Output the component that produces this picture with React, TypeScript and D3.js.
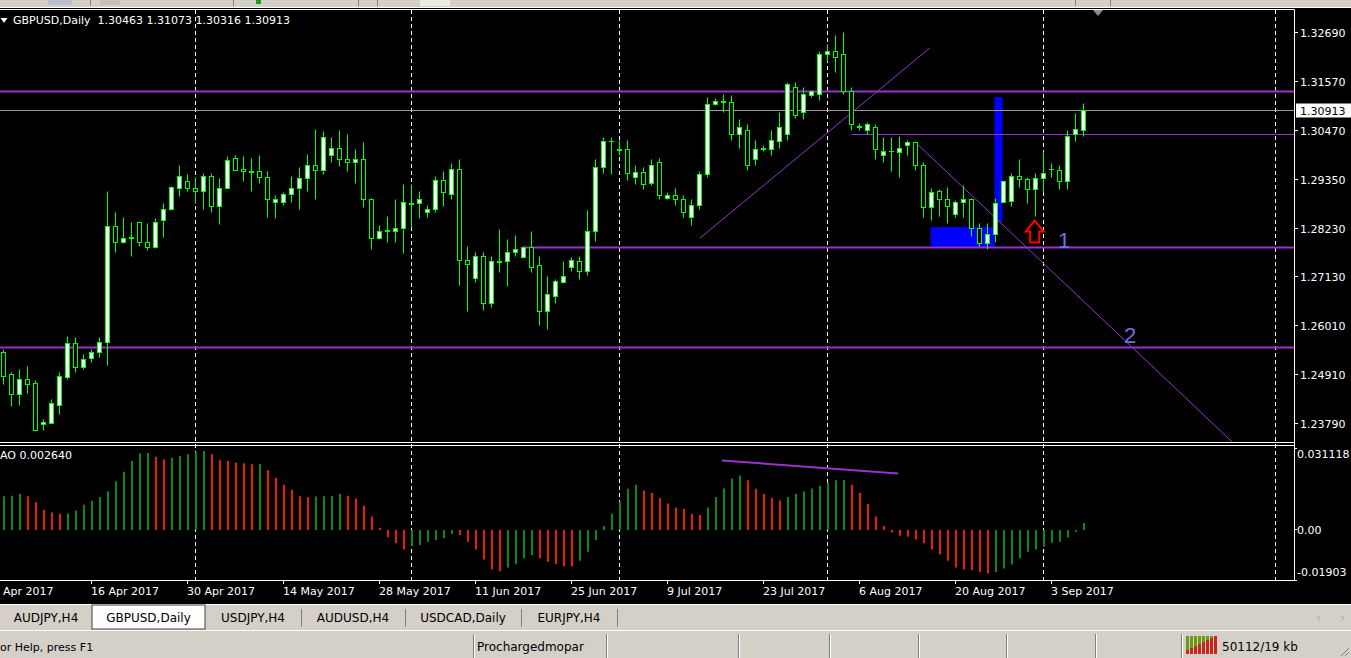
import React from 'react';
import * as d3 from 'd3';

// GBPUSD daily bars, 3 Apr 2017 .. 7 Sep 2017 (Sunday bars included)
const opens = [
  1.2541, 1.2490, 1.2446, 1.2480, 1.2469, 1.2376, 1.2380, 1.2421, 1.2483, 1.2562,
  1.2506, 1.2526, 1.2541, 1.2564, 1.2828, 1.2790, 1.2801, 1.2837, 1.2792, 1.2779,
  1.2840, 1.2867, 1.2915, 1.2929, 1.2915, 1.2906, 1.2942, 1.2874, 1.2915, 1.2983,
  1.2958, 1.2952, 1.2952, 1.2940, 1.2881, 1.2881, 1.2901, 1.2913, 1.2936, 1.2967,
  1.2956, 1.2988, 1.3004, 1.2981, 1.2972, 1.2981, 1.2890, 1.2801, 1.2817, 1.2817,
  1.2822, 1.2879, 1.2879, 1.2860, 1.2867, 1.2931, 1.2901, 1.2958, 1.2749, 1.2708,
  1.2758, 1.2653, 1.2747, 1.2747, 1.2769, 1.2756, 1.2779, 1.2738, 1.2633, 1.2669,
  1.2701, 1.2733, 1.2747, 1.2726, 1.2815, 1.2961, 1.3020, 1.3002, 1.3002, 1.2938,
  1.2951, 1.2926, 1.2974, 1.2892, 1.2899, 1.2888, 1.2847, 1.2876, 1.2945, 1.3106,
  1.3111, 1.3109, 1.3036, 1.3047, 1.2979, 1.3002, 1.3002, 1.3020, 1.3036, 1.3143,
  1.3088, 1.3125, 1.3127, 1.3218, 1.3225, 1.3218, 1.3134, 1.3056, 1.3047, 1.3052,
  1.2988, 1.2997, 1.2995, 1.3011, 1.3018, 1.2967, 1.2870, 1.2906, 1.2888, 1.2854,
  1.2881, 1.2888, 1.2824, 1.2788, 1.2810, 1.2883, 1.2884, 1.2941, 1.2935, 1.2912,
  1.2937, 1.2958, 1.2956, 1.2929, 1.3036, 1.30463,
];
const highs = [
  1.2548, 1.2496, 1.2501, 1.2508, 1.2478, 1.2387, 1.2433, 1.2496, 1.2576, 1.2574,
  1.2535, 1.2548, 1.2574, 1.2906, 1.2860, 1.2849, 1.2837, 1.2838, 1.2835, 1.2846,
  1.2879, 1.2918, 1.2967, 1.2945, 1.2938, 1.2949, 1.2947, 1.2936, 1.2986, 1.2990,
  1.2986, 1.2983, 1.2990, 1.2952, 1.2897, 1.2904, 1.2942, 1.2961, 1.2992, 1.3049,
  1.3043, 1.3029, 1.3045, 1.3036, 1.3002, 1.3018, 1.2892, 1.2829, 1.2851, 1.2890,
  1.2922, 1.2924, 1.2906, 1.2876, 1.2942, 1.2952, 1.2970, 1.2981, 1.2783, 1.2769,
  1.2769, 1.2758, 1.2820, 1.2797, 1.2806, 1.2783, 1.2817, 1.2760, 1.2713, 1.2706,
  1.2747, 1.2756, 1.2760, 1.2863, 1.2979, 1.3031, 1.3031, 1.3024, 1.3024, 1.2967,
  1.2961, 1.2979, 1.2983, 1.2904, 1.2915, 1.2899, 1.2888, 1.2952, 1.3120, 1.3118,
  1.3129, 1.3125, 1.3070, 1.3059, 1.3024, 1.3011, 1.3047, 1.3088, 1.3156, 1.3156,
  1.3143, 1.3138, 1.3225, 1.3241, 1.3263, 1.3268, 1.3143, 1.3061, 1.3065, 1.3059,
  1.3031, 1.3031, 1.3033, 1.3024, 1.3020, 1.2972, 1.2913, 1.2911, 1.2917, 1.2886,
  1.2920, 1.2892, 1.2835, 1.2835, 1.2892, 1.2931, 1.2947, 1.2981, 1.2939, 1.2949,
  1.2998, 1.2971, 1.2967, 1.3047, 1.3085, 1.31073,
];
const lows = [
  1.2467, 1.2417, 1.2421, 1.2448, 1.2360, 1.2364, 1.2378, 1.2399, 1.2480, 1.2494,
  1.2503, 1.2517, 1.2530, 1.2512, 1.2769, 1.2788, 1.2758, 1.2781, 1.2772, 1.2777,
  1.2803, 1.2863, 1.2895, 1.2906, 1.2879, 1.2865, 1.2860, 1.2831, 1.2913, 1.2952,
  1.2929, 1.2906, 1.2926, 1.2849, 1.2845, 1.2876, 1.2881, 1.2867, 1.2906, 1.2890,
  1.2945, 1.2974, 1.2965, 1.2952, 1.2926, 1.2870, 1.2776, 1.2797, 1.2792, 1.2790,
  1.2767, 1.2826, 1.2845, 1.2849, 1.2860, 1.2872, 1.2890, 1.2692, 1.2633, 1.2701,
  1.2637, 1.2642, 1.2722, 1.2690, 1.2758, 1.2754, 1.2722, 1.2603, 1.2592, 1.2653,
  1.2697, 1.2724, 1.2706, 1.2717, 1.2794, 1.2949, 1.2945, 1.2990, 1.2931, 1.2922,
  1.2911, 1.2920, 1.2888, 1.2888, 1.2876, 1.2847, 1.2829, 1.2865, 1.2938, 1.3102,
  1.3088, 1.3024, 1.3006, 1.2956, 1.2967, 1.2997, 1.2990, 1.3006, 1.3024, 1.3074,
  1.3070, 1.3120, 1.3115, 1.3202, 1.3179, 1.3127, 1.3047, 1.3047, 1.3036, 1.2979,
  1.2972, 1.2952, 1.2940, 1.2990, 1.2954, 1.2849, 1.2842, 1.2851, 1.2835, 1.2849,
  1.2849, 1.2804, 1.2781, 1.2776, 1.2790, 1.2881, 1.2873, 1.2917, 1.2879, 1.2851,
  1.2904, 1.2939, 1.2912, 1.2911, 1.3020, 1.30316,
];
const closes = [
  1.2487, 1.2444, 1.2480, 1.2467, 1.2362, 1.2382, 1.2424, 1.2485, 1.2562, 1.2506,
  1.2524, 1.2541, 1.2564, 1.2828, 1.2792, 1.2799, 1.2802, 1.2790, 1.2779, 1.2837,
  1.2867, 1.2917, 1.2942, 1.2913, 1.2906, 1.2942, 1.2874, 1.2915, 1.2977, 1.2956,
  1.2952, 1.2951, 1.2940, 1.2890, 1.2890, 1.2901, 1.2913, 1.2936, 1.2967, 1.2956,
  1.3029, 1.3006, 1.2979, 1.2972, 1.2981, 1.2890, 1.2799, 1.2817, 1.2818, 1.2822,
  1.2881, 1.2878, 1.2888, 1.2867, 1.2931, 1.2904, 1.2958, 1.2749, 1.2740, 1.2758,
  1.2653, 1.2747, 1.2746, 1.2769, 1.2776, 1.2779, 1.2735, 1.2633, 1.2672, 1.2703,
  1.2713, 1.2751, 1.2726, 1.2815, 1.2961, 1.3020, 1.3021, 1.3001, 1.2949, 1.2951,
  1.2922, 1.2967, 1.2899, 1.2897, 1.2888, 1.2860, 1.2876, 1.2945, 1.3104, 1.3113,
  1.3110, 1.3036, 1.3052, 1.2967, 1.3002, 1.3006, 1.3024, 1.3052, 1.3150, 1.3081,
  1.3127, 1.3134, 1.3218, 1.3225, 1.3211, 1.3134, 1.3059, 1.3052, 1.3059, 1.3002,
  1.2999, 1.2998, 1.3006, 1.3018, 1.2967, 1.2870, 1.2904, 1.2890, 1.2872, 1.2881,
  1.2888, 1.2824, 1.2788, 1.2810, 1.2879, 1.2929, 1.2941, 1.2935, 1.2912, 1.2937,
  1.2949, 1.2957, 1.2929, 1.3033, 1.3049, 1.30913,
];
// Awesome Oscillator values per bar
const aoValues = [
  0.0128, 0.0130, 0.0137, 0.0128, 0.0105, 0.0077, 0.0066, 0.0061, 0.0062, 0.0074,
  0.0096, 0.0111, 0.0125, 0.0147, 0.0185, 0.0221, 0.0262, 0.0291, 0.0292, 0.0278,
  0.0268, 0.0274, 0.0281, 0.0287, 0.0296, 0.0300, 0.0287, 0.0265, 0.0262, 0.0255,
  0.0253, 0.0249, 0.0250, 0.0227, 0.0198, 0.0172, 0.0153, 0.0128, 0.0124, 0.0127,
  0.0128, 0.0129, 0.0137, 0.0130, 0.0118, 0.0093, 0.0051, 0.0007, -0.0028, -0.0051,
  -0.0074, -0.0061, -0.0057, -0.0045, -0.0038, -0.0032, -0.0015, -0.0019, -0.0045, -0.0074,
  -0.0112, -0.0150, -0.0157, -0.0143, -0.0130, -0.0108, -0.0096, -0.0108, -0.0121, -0.0130,
  -0.0138, -0.0139, -0.0117, -0.0083, -0.0038, 0.0015, 0.0061, 0.0108, 0.0156, 0.0172,
  0.0150, 0.0140, 0.0121, 0.0100, 0.0085, 0.0079, 0.0060, 0.0057, 0.0085, 0.0125,
  0.0157, 0.0195, 0.0207, 0.0189, 0.0156, 0.0137, 0.0121, 0.0112, 0.0125, 0.0137,
  0.0147, 0.0157, 0.0168, 0.0179, 0.0189, 0.0190, 0.0172, 0.0140, 0.0098, 0.0051,
  0.0015, -0.0010, -0.0022, -0.0026, -0.0036, -0.0051, -0.0074, -0.0093, -0.0117, -0.0143,
  -0.0150, -0.0153, -0.0160, -0.0166, -0.0160, -0.0147, -0.0131, -0.0108, -0.0083, -0.0074,
  -0.0064, -0.0049, -0.0045, -0.0029, -0.0007, 0.00264,
];

const priceTicks = ['1.32690', '1.31570', '1.30470', '1.29350', '1.28230', '1.27130', '1.26010', '1.24910', '1.23790'];
const aoTicks = [0.031118, 0.0, -0.01903];
const aoTickLabels = ['0.031118', '0.00', '-0.01903'];
// first label is cut by the window edge, only its tail shows
const dateTickIdx = [-1, 11, 23, 35, 47, 59, 71, 83, 95, 107, 119, 131];
const dateTickLabels = ['Apr 2017', '16 Apr 2017', '30 Apr 2017', '14 May 2017', '28 May 2017', '11 Jun 2017',
  '25 Jun 2017', '9 Jul 2017', '23 Jul 2017', '6 Aug 2017', '20 Aug 2017', '3 Sep 2017'];
const monthGridIdx = [24, 51, 77, 103, 130, 159];

// drawn objects (bar index, price)
const hLines = [
  { price: 1.3134, from: -1, w: 2 },
  { price: 1.3036, from: 106, w: 1 },
  { price: 1.2780, from: 65, w: 2 },
  { price: 1.2551, from: -1, w: 2 },
];
const trendUp = [{ i: 87.06, p: 1.2801 }, { i: 115.8, p: 1.3234 }];
const trendDown = [{ i: 114.06, p: 1.3018 }, { i: 129.56, p: 1.2751 }];
const aoTrend = [{ i: 89.8, v: 0.0264 }, { i: 111.8, v: 0.0214 }];
const blueBoxes = [
  { i1: 123.94, i2: 124.94, p1: 1.3122, p2: 1.2838 },
  { i1: 115.94, i2: 123.94, p1: 1.2826, p2: 1.2780 },
];
const arrowUp = { i: 128.9, p: 1.2841 };
const textMarks = [
  { label: '1', i: 131.8, p: 1.2779 },
  { label: '2', i: 140.06, p: 1.2562 },
];
const tabs = ['AUDJPY,H4', 'GBPUSD,Daily', 'USDJPY,H4', 'AUDUSD,H4', 'USDCAD,Daily', 'EURJPY,H4'];
const tabEdges = [0, 92, 205, 301, 405, 521, 617];
const statusSeps = [473, 606, 738, 829, 918, 1006, 1095, 1181];

const W = 1351;
const H = 658;
const RIGHT = 1294.5;
const GREEN = '#00ff00';
const PURPLE = '#9932cc';
const FONT = 'DejaVu Sans, Verdana, sans-serif';
const GRAY = '#d4d0c8';

const App = () => {
  const n = closes.length;
  const x = d3.scaleLinear().domain([0, n - 1]).range([3.5, 3.5 + 8 * (n - 1)]);
  const y = d3.scaleLinear().domain([1.2379, 1.3269]).range([423.5, 32.5]);
  const yAo = d3.scaleLinear().domain([-0.01903, 0.031118]).range([580, 448]);
  const snap = (v: number) => Math.round(v - 0.5) + 0.5;

  const lastPrice = closes[n - 1];

  // extend descending trendline to bottom of price window
  const slope = (y(trendDown[1].p) - y(trendDown[0].p)) / (x(trendDown[1].i) - x(trendDown[0].i));
  const tdX2 = x(trendDown[0].i) + (442 - y(trendDown[0].p)) / slope;

  const ax = x(arrowUp.i);
  const ay = y(arrowUp.p);

  return (
    <svg width={W} height={H} style={{ position: 'fixed', left: 0, top: 0, background: '#000' }}
      fontFamily={FONT}>
      <defs>
        <clipPath id="mainClip"><rect x={0} y={10} width={RIGHT} height={432} /></clipPath>
        <clipPath id="aoClip"><rect x={0} y={446} width={RIGHT} height={134} /></clipPath>
      </defs>
      <rect x={0} y={0} width={W} height={H} fill="#000" />

      {/* toolbar remnant */}
      <rect x={0} y={0} width={W} height={8} fill={GRAY} />
      <rect x={48} y={0} width={24} height={5} fill="#b9bfcc" />
      <rect x={100} y={0} width={20} height={5} fill="#c4c0b8" />
      <rect x={256} y={0} width={5} height={4} fill="#1ca01c" />
      <rect x={420} y={0} width={30} height={6} fill="#ecebe6" />
      {[90, 233, 358, 377, 1075, 1110].map(s => (
        <line key={s} x1={s + 0.5} x2={s + 0.5} y1={0} y2={6} stroke="#808080" />
      ))}
      <line x1={0} x2={W} y1={7.5} y2={7.5} stroke="#ffffff" />

      {/* window frames */}
      <line x1={0} x2={RIGHT} y1={9.5} y2={9.5} stroke="#fff" />
      <line x1={RIGHT} x2={RIGHT} y1={9.5} y2={580.5} stroke="#fff" />
      <line x1={0} x2={RIGHT} y1={442.5} y2={442.5} stroke="#fff" />
      <line x1={0} x2={RIGHT} y1={445.5} y2={445.5} stroke="#fff" />
      <line x1={0} x2={RIGHT} y1={580.5} y2={580.5} stroke="#fff" />

      {/* month grid */}
      {monthGridIdx.map(g => (
        <line key={g} x1={x(g)} x2={x(g)} y1={10} y2={580} stroke="#fff" strokeDasharray="4,3" />
      ))}

      {/* objects behind bars */}
      <g clipPath="url(#mainClip)">
        {blueBoxes.map((b, k) => (
          <rect key={k} x={x(b.i1) - 0.5} y={y(b.p1)} width={x(b.i2) - x(b.i1)} height={y(b.p2) - y(b.p1)} fill="#0000ff" />
        ))}
        {hLines.map((l, k) => (
          <line key={k} x1={l.from < 0 ? 0 : x(l.from)} x2={RIGHT} y1={snap(y(l.price))} y2={snap(y(l.price))}
            stroke={PURPLE} strokeWidth={l.w} />
        ))}
        <line x1={0} x2={RIGHT} y1={snap(y(lastPrice))} y2={snap(y(lastPrice))} stroke="#9a9a9a" />
        <line x1={x(trendUp[0].i)} y1={y(trendUp[0].p)} x2={x(trendUp[1].i)} y2={y(trendUp[1].p)}
          stroke={PURPLE} strokeWidth={1} />
        <line x1={x(trendDown[0].i)} y1={y(trendDown[0].p)} x2={tdX2} y2={442}
          stroke={PURPLE} strokeWidth={1} />

        {/* candles */}
        {closes.map((c, i) => {
          const o = opens[i];
          const cx = x(i);
          const top = snap(y(Math.max(o, c)));
          const bot = snap(y(Math.min(o, c)));
          const bull = c >= o;
          return (
            <g key={i}>
              <line x1={cx} x2={cx} y1={snap(y(highs[i]))} y2={snap(y(lows[i]))} stroke={GREEN} />
              {bot - top < 1 ? (
                <line x1={cx - 2.5} x2={cx + 2.5} y1={top} y2={top} stroke={GREEN} />
              ) : (
                <rect x={cx - 2} y={top} width={4} height={bot - top} fill={bull ? '#ffffff' : '#000000'} stroke={GREEN} />
              )}
            </g>
          );
        })}

        {/* arrow */}
        <path d={`M${ax},${ay} L${ax + 9},${ay + 11} L${ax + 4.5},${ay + 11} L${ax + 4.5},${ay + 22} L${ax - 4.5},${ay + 22} L${ax - 4.5},${ay + 11} L${ax - 9},${ay + 11} Z`}
          fill="none" stroke="#ff0000" strokeWidth={2} />
        {textMarks.map(t => (
          <text key={t.label} x={x(t.i)} y={y(t.p)} fill="#6f6fe6" fontFamily="Liberation Sans, Arial, sans-serif" fontSize={22}>{t.label}</text>
        ))}
      </g>

      {/* chart shift marker */}
      <path d="M1093,10 L1103,10 L1098,16 Z" fill="#8c8c9c" />

      {/* header */}
      <path d="M0.5,18 L7.5,18 L4,23 Z" fill="#fff" />
      <text x={13} y={24} fill="#fff" fontSize={11} style={{ whiteSpace: 'pre' }}>
        {`GBPUSD,Daily  ${opens[n - 1].toFixed(5)} ${highs[n - 1].toFixed(5)} ${lows[n - 1].toFixed(5)} ${closes[n - 1].toFixed(5)}`}
      </text>

      {/* price axis */}
      {priceTicks.map(t => {
        const ty = snap(y(parseFloat(t)));
        return (
          <g key={t}>
            <line x1={RIGHT} x2={1298} y1={ty} y2={ty} stroke="#fff" />
            <text x={1300} y={ty + 4} fill="#fff" fontSize={11}>{t}</text>
          </g>
        );
      })}
      <rect x={1296} y={snap(y(lastPrice)) - 7} width={55} height={14} fill="#fff" />
      <text x={1300} y={snap(y(lastPrice)) + 4} fill="#000" fontSize={11}>{lastPrice.toFixed(5)}</text>

      {/* AO window */}
      <g clipPath="url(#aoClip)">
        {aoValues.map((v, i) => {
          const up = i === 0 || v > aoValues[i - 1];
          return (
            <line key={i} x1={x(i) + 0.5} x2={x(i) + 0.5} y1={yAo(0)} y2={yAo(v)} stroke={up ? '#0a8a12' : '#ee1a12'} strokeWidth={2} />
          );
        })}
        <line x1={x(aoTrend[0].i)} y1={yAo(aoTrend[0].v)} x2={x(aoTrend[1].i)} y2={yAo(aoTrend[1].v)}
          stroke={PURPLE} strokeWidth={2} />
      </g>
      <text x={0} y={459} fill="#fff" fontSize={11}>{`AO ${aoValues[n - 1].toFixed(6)}`}</text>
      {aoTicks.map((t, k) => {
        const ty = yAo(t);
        const base = k === 0 ? 458 : k === 2 ? 576 : ty + 4;
        return (
          <g key={k}>
            <line x1={RIGHT} x2={1297} y1={snap(ty)} y2={snap(ty)} stroke="#fff" />
            <text x={1297} y={base} fill="#fff" fontSize={11}>{aoTickLabels[k]}</text>
          </g>
        );
      })}

      {/* time axis */}
      {dateTickIdx.map((d, k) => (
        <g key={d}>
          <line x1={x(d)} x2={x(d)} y1={581} y2={584} stroke="#fff" />
          <text x={k === 0 ? 3 : x(d) - 0.5} y={595} fill="#fff" fontSize={11}>{dateTickLabels[k]}</text>
        </g>
      ))}

      {/* tabs */}
      <rect x={0} y={604} width={W} height={27} fill={GRAY} />
      <line x1={0} x2={W} y1={604.5} y2={604.5} stroke="#ffffff" />
      <rect x={tabEdges[1]} y={605} width={tabEdges[2] - tabEdges[1]} height={24} fill="#ffffff" stroke="#404040" strokeWidth={1} />
      {tabEdges.slice(3).map(e => (
        <line key={e} x1={e + 0.5} x2={e + 0.5} y1={609} y2={627} stroke="#808080" />
      ))}
      {tabs.map((t, k) => (
        <text key={t} x={(tabEdges[k] + (tabEdges[k + 1] ?? tabEdges[k] + 100)) / 2} y={622}
          fill="#000" fontSize={12} textAnchor="middle">{t}</text>
      ))}
      <text x={1316} y={622} fill="#a8a8a8" fontSize={12}>‹</text>
      <text x={1340} y={622} fill="#a8a8a8" fontSize={12}>›</text>

      {/* status bar */}
      <rect x={0} y={631} width={W} height={27} fill={GRAY} />
      <line x1={0} x2={W} y1={630.5} y2={630.5} stroke="#ffffff" />
      {statusSeps.map(s => (
        <g key={s}>
          <line x1={s + 0.5} x2={s + 0.5} y1={634} y2={658} stroke="#808080" />
          <line x1={s + 1.5} x2={s + 1.5} y1={634} y2={658} stroke="#ffffff" />
        </g>
      ))}
      <text x={0} y={651} fill="#000" fontSize={11}>or Help, press F1</text>
      <text x={477} y={651} fill="#000" fontSize={12}>Prochargedmopar</text>
      {d3.range(8).map(k => (
        <g key={k}>
          <rect x={1186 + k * 4} y={636} width={3} height={18} fill="#6b9a1a" />
          <rect x={1186 + k * 4} y={654 - (k + 2) * 2} width={3} height={(k + 2) * 2} fill="#c8261c" />
        </g>
      ))}
      <text x={1222} y={651} fill="#000" fontSize={12}>50112/19 kb</text>
      {[0, 4, 8].map(k => (
        <line key={k} x1={1349 - k} y1={656} x2={1349} y2={656 - k} stroke="#808080" />
      ))}
    </svg>
  );
};

export default App;
